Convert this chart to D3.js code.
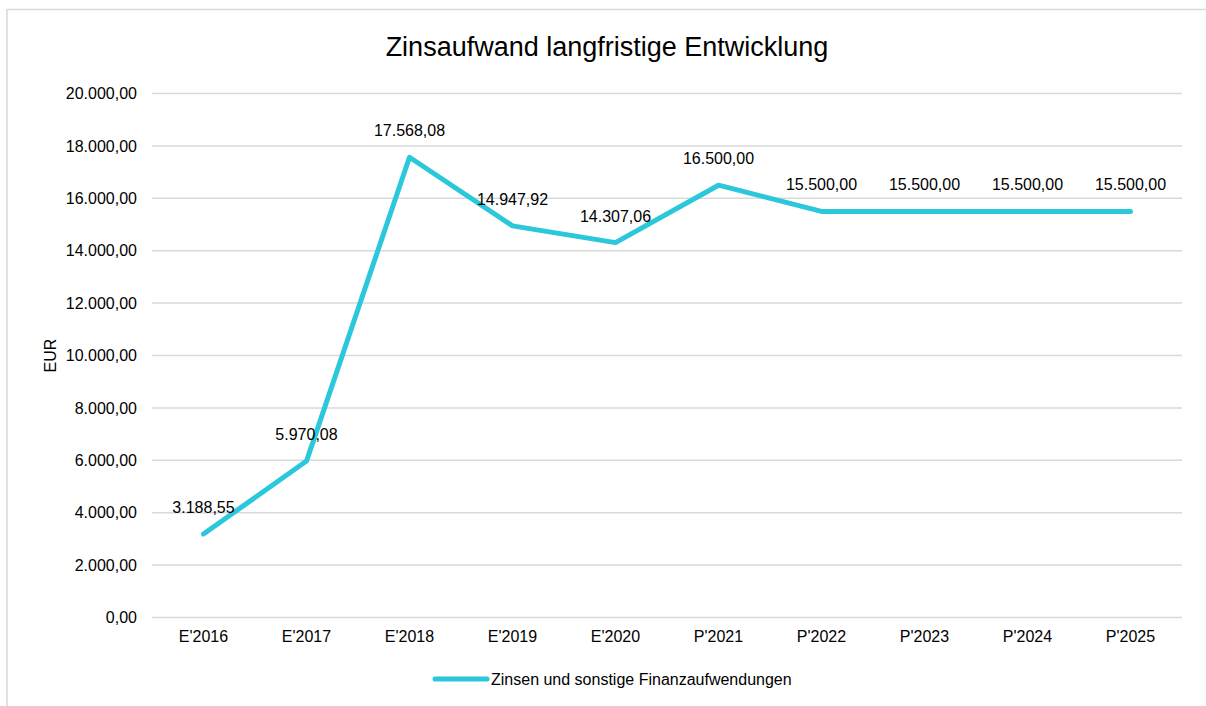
<!DOCTYPE html>
<html>
<head>
<meta charset="utf-8">
<script src="https://cdn.jsdelivr.net/npm/d3@7"></script>
<style>
  body { margin: 0; background: #fff; }
  text { font-family: "Liberation Sans", Arial, sans-serif; fill: #000; }
</style>
</head>
<body>
<div id="chart"></div>
<script>
// Chart data
const categories = ["E'2016", "E'2017", "E'2018", "E'2019", "E'2020", "P'2021", "P'2022", "P'2023", "P'2024", "P'2025"];
const values = [3188.55, 5970.08, 17568.08, 14947.92, 14307.06, 16500, 15500, 15500, 15500, 15500];
const yTicks = [0, 2000, 4000, 6000, 8000, 10000, 12000, 14000, 16000, 18000, 20000];
const seriesName = "Zinsen und sonstige Finanzaufwendungen";
const chartTitle = "Zinsaufwand langfristige Entwicklung";

const width = 1206, height = 706;
const margin = { top: 93.5, right: 24, bottom: 88.5, left: 152 };
const innerW = width - margin.left - margin.right;
const innerH = height - margin.top - margin.bottom;
const lineColor = "#2bc7da";

const de = d3.formatLocale({ decimal: ",", thousands: ".", grouping: [3], currency: ["", " €"] });
const fmt = de.format(",.2f");

const svg = d3.select("#chart").append("svg")
  .attr("width", width)
  .attr("height", height);

// Outer chart border
svg.append("rect")
  .attr("x", 7).attr("y", 9.5)
  .attr("width", width + 10).attr("height", height + 10)
  .attr("fill", "none")
  .attr("stroke", "#d9d9d9")
  .attr("stroke-width", 1.5);

const g = svg.append("g").attr("transform", `translate(${margin.left},${margin.top})`);

const x = d3.scaleBand().domain(categories).range([0, innerW]);
const y = d3.scaleLinear().domain([0, 20000]).range([innerH, 0]);

// Gridlines
g.selectAll(".grid").data(yTicks).enter().append("line")
  .attr("class", "grid")
  .attr("x1", 0).attr("x2", innerW)
  .attr("y1", d => y(d)).attr("y2", d => y(d))
  .attr("stroke", "#d9d9d9")
  .attr("stroke-width", 1.5);

// Y axis labels
const yAxis = g.append("g").call(d3.axisLeft(y).tickValues(yTicks).tickFormat(fmt).tickSize(0).tickPadding(15));
yAxis.select(".domain").remove();
yAxis.selectAll("text").style("font-size", "16px").attr("font-family", null);

// X axis labels
const xAxis = g.append("g").attr("transform", `translate(0,${innerH})`)
  .call(d3.axisBottom(x).tickSize(0).tickPadding(13));
xAxis.select(".domain").remove();
xAxis.selectAll("text").style("font-size", "16px").attr("font-family", null);

// Line
const line = d3.line()
  .x((d, i) => x(categories[i]) + x.bandwidth() / 2)
  .y(d => y(d));

g.append("path")
  .datum(values)
  .attr("d", line)
  .attr("fill", "none")
  .attr("stroke", lineColor)
  .attr("stroke-width", 5)
  .attr("stroke-linejoin", "round")
  .attr("stroke-linecap", "round");

// Data labels
g.selectAll(".label").data(values).enter().append("text")
  .attr("class", "label")
  .attr("x", (d, i) => x(categories[i]) + x.bandwidth() / 2)
  .attr("y", d => y(d) - 21)
  .attr("text-anchor", "middle")
  .style("font-size", "16px")
  .text(d => fmt(d));

// Title
svg.append("text")
  .attr("x", 607).attr("y", 56)
  .attr("text-anchor", "middle")
  .style("font-size", "27px")
  .text(chartTitle);

// Y axis title
svg.append("text")
  .attr("transform", `translate(56,${margin.top + innerH / 2}) rotate(-90)`)
  .attr("text-anchor", "middle")
  .style("font-size", "16px")
  .text("EUR");

// Legend
const legend = svg.append("g").attr("transform", "translate(435,679)");
legend.append("line")
  .attr("x1", 0).attr("x2", 52)
  .attr("stroke", lineColor)
  .attr("stroke-width", 5)
  .attr("stroke-linecap", "round");
legend.append("text")
  .attr("x", 56).attr("y", 6)
  .style("font-size", "16px")
  .text(seriesName);
</script>
</body>
</html>
